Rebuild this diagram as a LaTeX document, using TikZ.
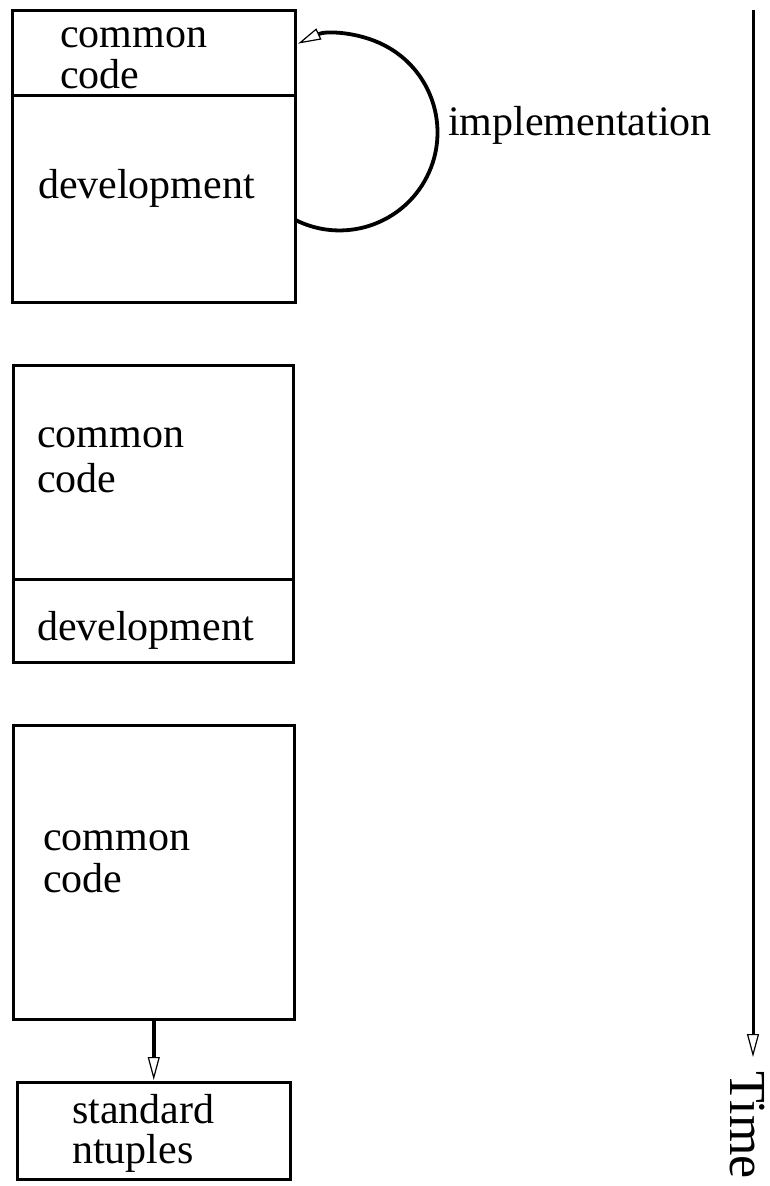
\documentclass[tikz,border=0pt]{standalone}
\usepackage{fontspec}
\setmainfont{Liberation Serif}
\usetikzlibrary{arrows.meta}
% fixed-height strut so the first baseline sits 30pt below a label's top
\newcommand\linestrut{\rule{0pt}{30pt}}
\tikzset{
  box/.style={draw, line width=3pt, rectangle, inner sep=0pt, outer sep=0pt, anchor=north west},
  lbl/.style={inner sep=0pt, outer sep=0pt, font=\fontsize{42}{#1}\selectfont, align=left, anchor=north west},
  lbl/.default=42,
  word/.style={inner sep=0pt, outer sep=0pt, font=\fontsize{42}{42}\selectfont, anchor=base west},
  tip/.style={-{Triangle[open, length=23pt, width=12pt, line width=1.2pt]}},
  conn/.style={line width=3.8pt, tip},
}
\begin{document}
\begin{tikzpicture}[x=1pt,y=1pt]
\useasboundingbox (0,0) rectangle (770,-1186);

% first stage: small common part, large development part
\node[box, minimum width=283, minimum height=85] (c1) at (12,-10) {};
\node[box, minimum width=283, minimum height=207.5] (d1) at (12,-95) {};
\node[lbl=41] (c1t) at (60,-17) {\linestrut common\\\linestrut code};
\node[word] (d1t) at (38,-198) {development};

% implementation loop back into the common part
\draw[conn] ([yshift=-21pt]d1.east) arc[start angle=-117, end angle=115, radius=98];
\node[word] (impl) at (448,-135) {implementation};

% second stage: common part has grown
\node[box, minimum width=280, minimum height=213.5] (c2) at (13,-365.5) {};
\node[box, minimum width=280, minimum height=83] (d2) at (13,-579) {};
\node[lbl=45] (c2t) at (37,-417) {\linestrut common\\\linestrut code};
\node[word] (d2t) at (37,-640) {development};

% third stage: only common code, feeding the standard ntuples
\node[box, minimum width=281.5, minimum height=294] (c3) at (13,-725) {};
\node[lbl=42] (c3t) at (43,-820) {\linestrut common\\\linestrut code};
\node[box, minimum width=273.5, minimum height=97] (std) at (17,-1082) {};
\node[lbl=40] (stdt) at (72,-1093) {\linestrut standard\\\linestrut ntuples};
\draw[conn, shorten >=2pt] (c3.south) -- (std.north);

% time axis
\coordinate (ttop) at (753,-10);
\coordinate (tend) at (753,-1057);
\draw[tip, line width=3pt] (ttop) -- (tend);
\node[inner sep=0pt, outer sep=0pt, font=\fontsize{52}{52}\selectfont, rotate=-90, anchor=base west] (time) at (730,-1071) {Time};
\end{tikzpicture}
\end{document}
